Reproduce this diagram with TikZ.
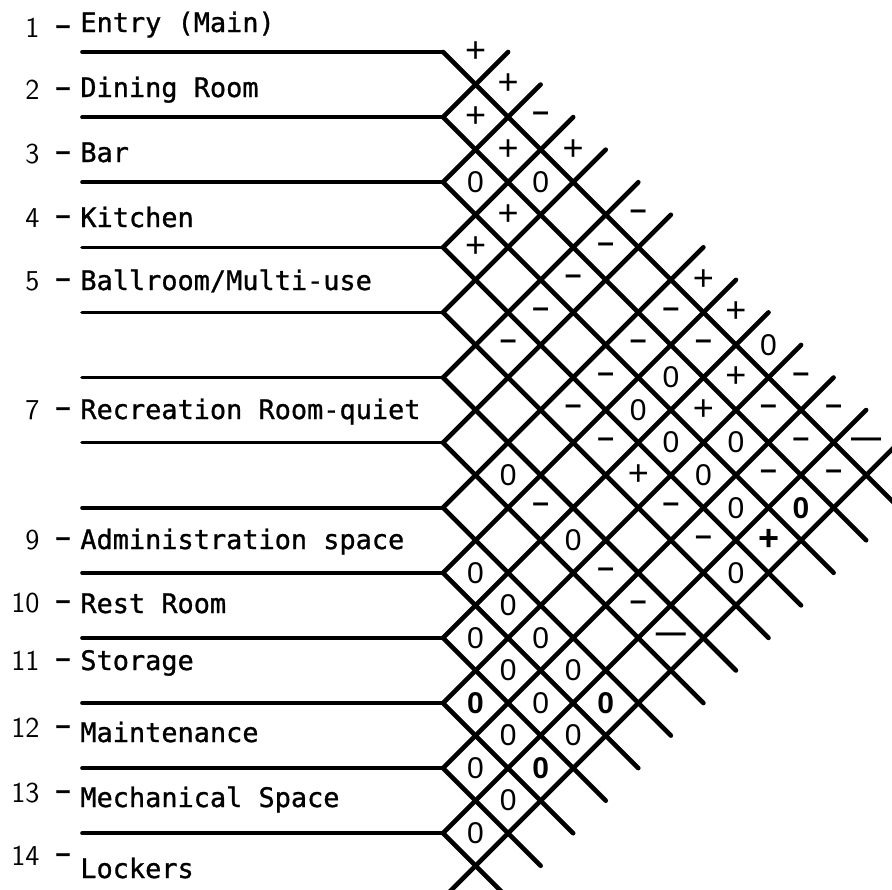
\documentclass[tikz,border=0pt]{standalone}
\usepackage{fontspec}
\newfontfamily\roomfont[FakeBold=1]{DejaVu Sans Mono}
\newfontfamily\markfont{Liberation Sans}
\newcommand\psign{{\fontsize{18}{18}\selectfont +}}
\newcommand\msign{{\bfseries –}}
\newcommand\zsign{0}

\begin{document}
\begin{tikzpicture}[x=0.5pt,y=-0.5pt,line cap=round]
  \tikzstyle{rule}=[line width=1.8pt]
  \tikzstyle{diag}=[line width=2.3pt]
  \tikzstyle{room}=[inner sep=0pt, font=\roomfont\fontsize{13.45}{16}\selectfont]
  \tikzstyle{num}=[inner sep=0pt, font=\sffamily\fontsize{14.4}{17}\selectfont]
  \tikzstyle{hyph}=[inner sep=0pt, font=\roomfont\bfseries\fontsize{11}{13}\selectfont]
  \tikzstyle{sign}=[inner sep=0pt, font=\markfont\fontsize{15}{18}\selectfont]
  \tikzstyle{heavy}=[inner sep=0pt, font=\markfont\bfseries\fontsize{15}{18}\selectfont]

  \useasboundingbox (0,0) rectangle (892,889);
  \clip (0,0) rectangle (892,889);

  % row boundaries, 65.1 apart, bending into the grid at x=443
  \foreach \k in {1,...,14} {
    \coordinate (h\k) at (82,{52+(\k-1)*65.1});
    \coordinate (v\k) at (443,{52+(\k-1)*65.1});
  }
  \foreach \k in {1,...,13}
    \draw[rule] (h\k) -- (v\k);
  \foreach \k in {1,...,13}
    \draw[diag] (v\k) -- ++({(15-\k)*32.55},{(15-\k)*32.55});
  \foreach \k in {2,...,14}
    \draw[diag] (v\k) -- ++({\k*32.55},{-\k*32.55});

  % room list
  \foreach \k/\y/\ny/\txt in {1/32/37/{Entry (Main)}, 2/97/99/{Dining Room}, 3/162/163/Bar,
      4/227/227/Kitchen, 5/290/290/{Ballroom/Multi-use}, 7/419/419/{Recreation Room-quiet},
      9/549/549/{Administration space}, 10/613/612/{Rest Room}, 11/670/670/Storage,
      12/742/737/Maintenance, 13/807/802/{Mechanical Space}} {
    \node[num, anchor=base east] (n\k) at (40,\ny) {\k};
    \node[hyph] (d\k) at (63,\ny-8) {–};
    \node[room, anchor=base west] (r\k) at (80,\y) {\txt};
  }
  \node[num, anchor=base east] (n14) at (40,865) {14};
  \node[hyph] (d14) at (63,857) {–};
  \node[room, anchor=base west] (r14) at (80,878) {Lockers};

  % relationship signs, cell (i,j)
  \foreach \i/\j/\m in {1/2/\psign, 1/3/\psign, 1/4/\msign, 1/5/\psign, 1/7/\msign, 1/9/\psign,
      1/10/\psign, 1/11/\zsign, 1/12/\msign, 1/13/\msign,
      2/3/\psign, 2/4/\psign, 2/5/\zsign, 2/7/\msign, 2/9/\msign, 2/10/\msign, 2/11/\psign,
      2/12/\msign, 2/13/\msign, 2/14/\msign,
      3/4/\zsign, 3/5/\psign, 3/7/\msign, 3/9/\msign, 3/10/\zsign, 3/11/\psign, 3/12/\zsign, 3/13/\msign,
      4/5/\psign, 4/7/\msign, 4/9/\msign, 4/10/\zsign, 4/11/\zsign, 4/12/\zsign, 4/13/\zsign,
      5/7/\msign, 5/9/\msign, 5/10/\msign, 5/11/\psign, 5/12/\msign, 5/13/\msign, 5/14/\zsign,
      7/9/\zsign, 7/10/\msign, 7/11/\zsign, 7/12/\msign, 7/13/\msign,
      9/10/\zsign, 9/11/\zsign, 9/12/\zsign, 9/13/\zsign,
      10/11/\zsign, 10/12/\zsign, 10/13/\zsign, 10/14/\zsign,
      11/13/\zsign, 12/13/\zsign, 12/14/\zsign, 13/14/\zsign}
    \node[sign] (c\i-\j) at ({443+(\j-\i)*32.55},{52+(\i+\j-3)*32.55}) {\m};
  \foreach \i/\j/\m in {3/14/\zsign, 4/14/\psign, 9/14/\zsign, 11/12/\zsign, 11/14/\zsign}
    \node[heavy] (c\i-\j) at ({443+(\j-\i)*32.55},{52+(\i+\j-3)*32.55}) {\m};
  \foreach \i/\j in {1/14, 7/14}
    \node[heavy] (c\i-\j) at ({443+(\j-\i)*32.55},{52+(\i+\j-3)*32.55}) {—};
\end{tikzpicture}
\end{document}
